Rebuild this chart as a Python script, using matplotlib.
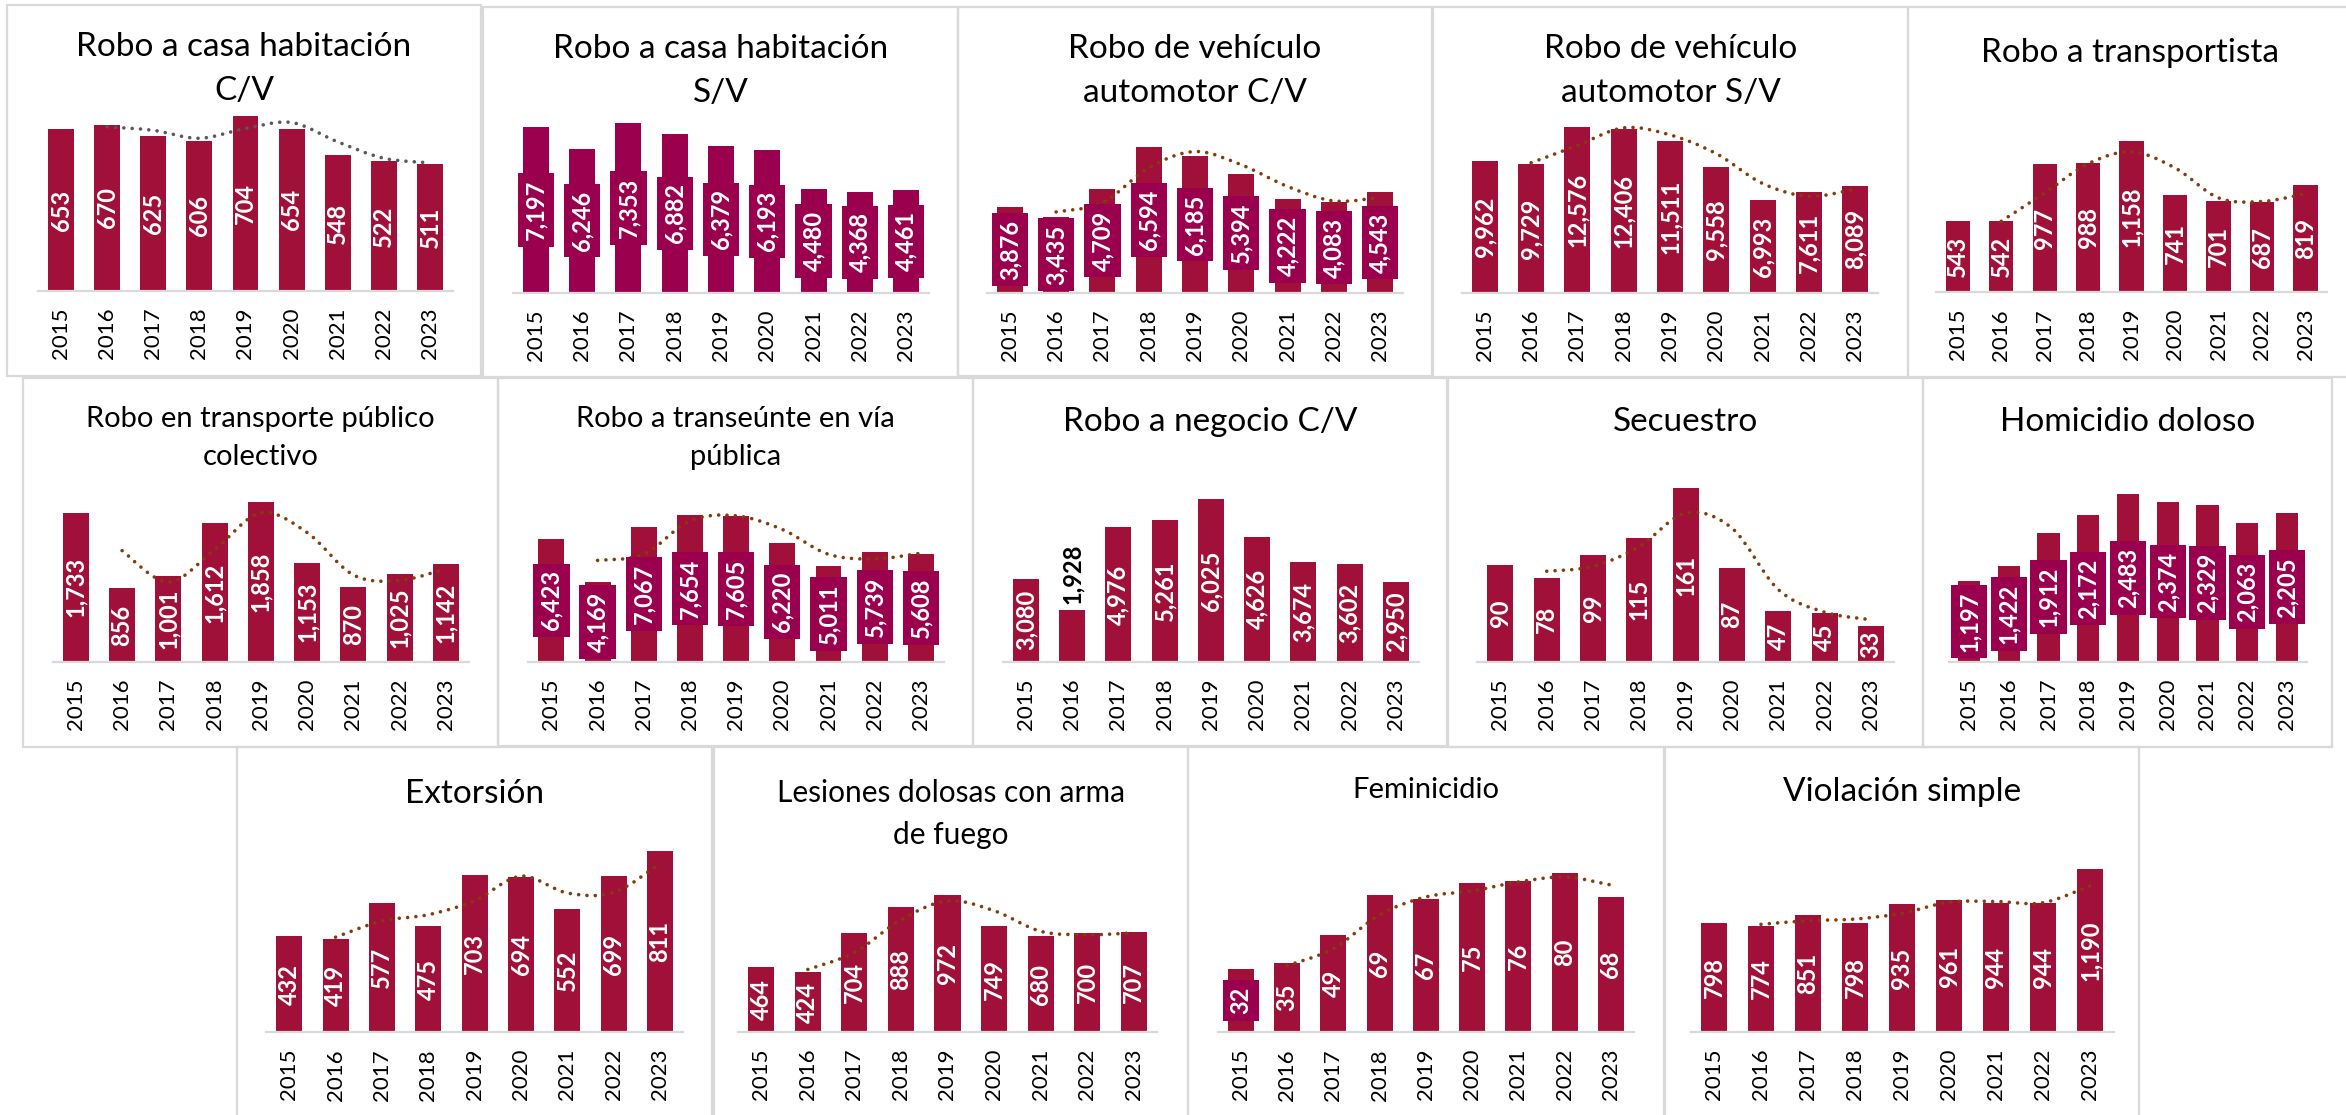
import matplotlib
matplotlib.use('Agg')
import matplotlib.pyplot as plt
from matplotlib.path import Path
from matplotlib.patches import PathPatch, Rectangle

plt.rcParams['font.family'] = ['Lato', 'DejaVu Sans']

W, H = 2346, 1115

# datos
years = ['2015', '2016', '2017', '2018', '2019', '2020', '2021', '2022', '2023']
casa_cv = [653, 670, 625, 606, 704, 654, 548, 522, 511]
casa_sv = [7197, 6246, 7353, 6882, 6379, 6193, 4480, 4368, 4461]
vehiculo_cv = [3876, 3435, 4709, 6594, 6185, 5394, 4222, 4083, 4543]
vehiculo_sv = [9962, 9729, 12576, 12406, 11511, 9558, 6993, 7611, 8089]
transportista = [543, 542, 977, 988, 1158, 741, 701, 687, 819]
transporte_publico = [1733, 856, 1001, 1612, 1858, 1153, 870, 1025, 1142]
transeunte = [6423, 4169, 7067, 7654, 7605, 6220, 5011, 5739, 5608]
negocio_cv = [3080, 1928, 4976, 5261, 6025, 4626, 3674, 3602, 2950]
secuestro = [90, 78, 99, 115, 161, 87, 47, 45, 33]
homicidio = [1197, 1422, 1912, 2172, 2483, 2374, 2329, 2063, 2205]
extorsion = [432, 419, 577, 475, 703, 694, 552, 699, 811]
lesiones = [464, 424, 704, 888, 972, 749, 680, 700, 707]
feminicidio = [32, 35, 49, 69, 67, 75, 76, 80, 68]
violacion = [798, 774, 851, 798, 935, 961, 944, 944, 1190]

CRIMSON = '#A11039'
MAGENTA = '#9B004F'
BROWN = '#843C0C'
GREY = '#595959'
BORDER = '#D9D9D9'

# titulo, valores, tamaño titulo, etiquetas con caja, color barra, tendencia, etiquetas fuera
panels = [
    ('Robo a casa habitación\nC/V', casa_cv, 24, [], CRIMSON, GREY, []),
    ('Robo a casa habitación\nS/V', casa_sv, 24, 'all', MAGENTA, None, []),
    ('Robo de vehículo\nautomotor C/V', vehiculo_cv, 24, 'all', CRIMSON, BROWN, []),
    ('Robo de vehículo\nautomotor S/V', vehiculo_sv, 24, [], CRIMSON, BROWN, []),
    ('Robo a transportista', transportista, 24, [], CRIMSON, BROWN, []),
    ('Robo en transporte público\ncolectivo', transporte_publico, 21, [], CRIMSON, BROWN, []),
    ('Robo a transeúnte en vía\npública', transeunte, 21, 'all', CRIMSON, BROWN, []),
    ('Robo a negocio C/V', negocio_cv, 24, [], CRIMSON, None, [1]),
    ('Secuestro', secuestro, 24, [], CRIMSON, BROWN, []),
    ('Homicidio doloso', homicidio, 24, 'all', CRIMSON, None, []),
    ('Extorsión', extorsion, 24, [], CRIMSON, BROWN, []),
    ('Lesiones dolosas con arma\nde fuego', lesiones, 21.5, [], CRIMSON, BROWN, []),
    ('Feminicidio', feminicidio, 21, [0], CRIMSON, BROWN, []),
    ('Violación simple', violacion, 24, [], CRIMSON, BROWN, []),
]

# disposición en pixeles: marco (x0, x1, y0, y1), eje (x0, x1, y_eje, y_tope), y del titulo
layout = [
    ((7, 481, 5, 376), (38, 453, 291, 116.3), 69),
    ((483, 958, 7, 377), (512.7, 929.3, 292.7, 123.3), 71),
    ((958, 1432, 7, 376), (986.7, 1403.3, 292.7, 147), 71),
    ((1433, 1908, 7, 377), (1461.7, 1878.3, 292.7, 126.7), 71),
    ((1908, 2352, 7, 377), (1936, 2327.3, 292.3, 140.7), 53),
    ((23, 498, 378, 747), (52.7, 469, 661.7, 502.3), 438),
    ((498, 973, 378, 746), (528.3, 944, 661.7, 515.3), 438),
    ((973, 1447, 378, 746), (1002.7, 1419, 661.7, 499), 422),
    ((1448, 1923, 378, 747), (1477.3, 1894, 661.7, 488.3), 422),
    ((1923, 2332, 378, 747), (1949.3, 2306.7, 661.7, 494.3), 422),
    ((237, 712, 747, 1125), (266, 683.3, 1032.3, 851), 794),
    ((714, 1188, 747, 1125), (738, 1157, 1032, 895), 814),
    ((1188, 1664, 747, 1125), (1217.7, 1634, 1032.3, 873), 790),
    ((1665, 2139, 747, 1125), (1690.5, 2113.5, 1032, 869), 792),
]


def smooth_path(xs, ys):
    n = len(xs)
    verts = [(xs[0], ys[0])]
    codes = [Path.MOVETO]
    for i in range(n - 1):
        a = max(i - 1, 0)
        d = min(i + 2, n - 1)
        c1 = (xs[i] + (xs[i + 1] - xs[a]) / 6, ys[i] + (ys[i + 1] - ys[a]) / 6)
        c2 = (xs[i + 1] - (xs[d] - xs[i]) / 6, ys[i + 1] - (ys[d] - ys[i]) / 6)
        verts += [c1, c2, (xs[i + 1], ys[i + 1])]
        codes += [Path.CURVE4] * 3
    return Path(verts, codes)


fig = plt.figure(figsize=(W / 100, H / 100), dpi=100)
fig.patch.set_facecolor('white')

for (title, vals, tsize, boxed, bar_color, trend, outside), (frame, axpos, ty) in zip(panels, layout):
    fx0, fx1, fy0, fy1 = frame
    fig.add_artist(Rectangle((fx0 / W, 1 - fy1 / H), (fx1 - fx0) / W, (fy1 - fy0) / H,
                             transform=fig.transFigure, fill=False, edgecolor=BORDER, lw=1.6))
    ax0, ax1, ay, atop = axpos
    ax = fig.add_axes([ax0 / W, 1 - ay / H, (ax1 - ax0) / W, (ay - atop) / H])
    x = list(range(len(vals)))
    ax.bar(x, vals, width=0.56, color=bar_color, zorder=2)
    ax.set_xlim(-0.5, len(vals) - 0.5)
    ax.set_ylim(0, max(vals))
    for s in ['top', 'right', 'left']:
        ax.spines[s].set_visible(False)
    ax.spines['bottom'].set_color(BORDER)
    ax.spines['bottom'].set_linewidth(1.6)
    ax.set_yticks([])
    ax.set_xticks(x)
    ax.set_xticklabels(years, rotation=90, fontsize=16)
    ax.tick_params(axis='x', length=0, pad=12)
    ax.patch.set_alpha(0)

    if trend is not None:
        # media móvil de 2 periodos, suavizada
        ma = [(vals[i - 1] + vals[i]) / 2 for i in range(1, len(vals))]
        pp = PathPatch(smooth_path(x[1:], ma), fill=False, edgecolor=trend, lw=2.6,
                       linestyle=(0, (0.01, 2.3)), capstyle='round', zorder=3, clip_on=False)
        ax.add_patch(pp)

    for i, v in enumerate(vals):
        label = f'{v:,}'
        if i in outside:
            ax.annotate(label, (i, v), xytext=(0, 4), textcoords='offset points',
                        rotation=90, ha='center', va='bottom', fontsize=17,
                        fontweight='bold', color='black', zorder=5)
            continue
        box = None
        if boxed == 'all' or i in boxed:
            box = dict(boxstyle='square,pad=0.28', facecolor=MAGENTA, edgecolor='none')
        ax.text(i, v / 2, label, rotation=90, ha='center', va='center', fontsize=17,
                fontweight='bold', color='white', bbox=box, zorder=5)

    fig.text((fx0 + fx1) / 2 / W, 1 - ty / H, title, ha='center', va='center',
             fontsize=tsize, color='black', linespacing=1.6)

fig.savefig('out.png', dpi=100, facecolor='white')
